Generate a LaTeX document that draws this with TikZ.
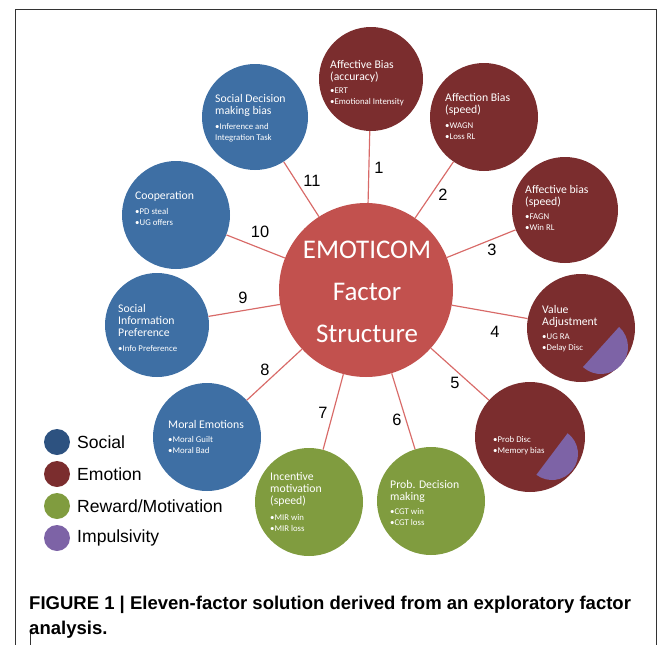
\documentclass[tikz,border=0pt]{standalone}
\usepackage{fontspec}
\setmainfont{Liberation Sans}
\newfontfamily\calibri{Carlito}
\usepackage{tikz}

\definecolor{emotion}{HTML}{7B2D2E}
\definecolor{social}{HTML}{3E6FA4}
\definecolor{socialkey}{HTML}{2D5280}
\definecolor{reward}{HTML}{809C3F}
\definecolor{impulse}{HTML}{7D63A6}
\definecolor{coreclr}{HTML}{C2514E}
\definecolor{linkclr}{HTML}{D86A68}

\begin{document}
\begin{tikzpicture}[x=0.03cm,y=-0.03cm,
        ball/.style={circle,inner sep=0pt,minimum size=#1*0.06cm},
        link/.style={linkclr,line width=1pt},
        ftitle/.style={anchor=north west,inner sep=0pt,align=left,text=white,font=\calibri\fontsize{10}{10.2}\selectfont},
        fbullet/.style={anchor=north west,inner sep=0pt,align=left,text=white,font=\calibri\fontsize{7.5}{9.4}\selectfont},
        num/.style={inner sep=0pt,font=\fontsize{14}{14}\selectfont},
        key/.style={anchor=west,inner sep=0pt,font=\fontsize{15}{15}\selectfont},
        frame/.style={line width=0.8pt,black!80}]

                \useasboundingbox (0,0) rectangle (669,645);
                \draw[frame] (15,645) -- (15,9) -- (656,9) -- (656,645);
                \draw[frame] (30,633) -- (30,645);

                \node[ball=87,fill=coreclr] (core) at (366,290) {};
                \node[ball=52,fill=emotion] (f1) at (371,79) {};
                \node[ball=54,fill=emotion] (f2) at (484,117) {};
                \node[ball=53,fill=emotion] (f3) at (565,210) {};
                \node[ball=54,fill=emotion] (f4) at (581,328) {};
                \node[ball=55,fill=emotion] (f5) at (530,437) {};
                \node[ball=54,fill=reward] (f6) at (431,501) {};
                \node[ball=54,fill=reward] (f7) at (309,502) {};
                \node[ball=54,fill=social] (f8) at (207,437) {};
                \node[ball=52,fill=social] (f9) at (157,325) {};
                \node[ball=54,fill=social] (f10) at (176,215) {};
                \node[ball=53,fill=social] (f11) at (255,117) {};

                \foreach \n in {1,...,11}
                    \draw[link] (core) -- (f\n);

                \fill[impulse] (601,347) ++(-48:27) arc[start angle=-48,end angle=132,radius=27] -- cycle;
                \fill[impulse] (552,454) ++(-53:26) arc[start angle=-53,end angle=127,radius=26] -- cycle;

                \node[font=\calibri\fontsize{23}{35.9}\selectfont,text=white,align=center] (ctext) at (367,292) {EMOTICOM\\Factor\\Structure};

                \node[ftitle] (t1) at (330,60) {Affective Bias\\(accuracy)};
                \node[fbullet] (b1) at (330,88) {•ERT\\•Emotional Intensity};
                \node[ftitle] (t2) at (445,93) {Affection Bias\\(speed)};
                \node[fbullet] (b2) at (445,123) {•WAGN\\•Loss RL};
                \node[ftitle] (t3) at (525,185) {Affective bias\\(speed)};
                \node[fbullet] (b3) at (525,214) {•FAGN\\•Win RL};
                \node[ftitle] (t4) at (542,305) {Value\\Adjustment};
                \node[fbullet] (b4) at (542,334) {•UG RA\\•Delay Disc};
                \node[fbullet] (b5) at (493,436) {•Prob Disc\\•Memory bias};
                \node[ftitle] (t6) at (390,480) {Prob. Decision\\making};
                \node[fbullet] (b6) at (390,508) {•CGT win\\•CGT loss};
                \node[ftitle] (t7) at (270,472) {Incentive\\motivation\\(speed)};
                \node[fbullet] (b7) at (270,514) {•MIR win\\•MIR loss};
                \node[ftitle] (t8) at (168,420) {Moral Emotions};
                \node[fbullet] (b8) at (168,436) {•Moral Guilt\\•Moral Bad};
                \node[ftitle] (t9) at (118,304) {Social\\Information\\Preference};
                \node[fbullet] (b9) at (118,345) {•Info Preference};
                \node[ftitle] (t10) at (135,191) {Cooperation};
                \node[fbullet] (b10) at (135,208) {•PD steal\\•UG offers};
                \node[ftitle] (t11) at (215,94) {Social Decision\\making bias};
                \node[fbullet] (b11) at (215,123) {•Inference and\\Integration Task};

                \node[num] (n1) at (379,168) {1};
                \node[num] (n2) at (443,195) {2};
                \node[num] (n3) at (492,250) {3};
                \node[num] (n4) at (495,332) {4};
                \node[num] (n5) at (455,383) {5};
                \node[num] (n6) at (397,420) {6};
                \node[num] (n7) at (323,413) {7};
                \node[num] (n8) at (265,370) {8};
                \node[num] (n9) at (243,298) {9};
                \node[num] (n10) at (260,232) {10};
                \node[num] (n11) at (312,181) {11};

                \node[ball=13,fill=socialkey] (k1) at (57,442) {};
                \node[ball=13,fill=emotion] (k2) at (57,474) {};
                \node[ball=13,fill=reward] (k3) at (57,506) {};
                \node[ball=13,fill=impulse] (k4) at (57,538) {};
                \node[key] (l1) at (77,442) {Social};
                \node[key] (l2) at (77,474) {Emotion};
                \node[key] (l3) at (77,506) {Reward/Motivation};
                \node[key] (l4) at (77,538) {Impulsivity};

                \node[anchor=north west,inner sep=0pt,align=left,font=\bfseries\fontsize{15.8}{21.3}\selectfont] (cap) at (29,596) {FIGURE 1 | Eleven-factor solution derived from an exploratory factor\\analysis.};

            \end{tikzpicture}
\end{document}
